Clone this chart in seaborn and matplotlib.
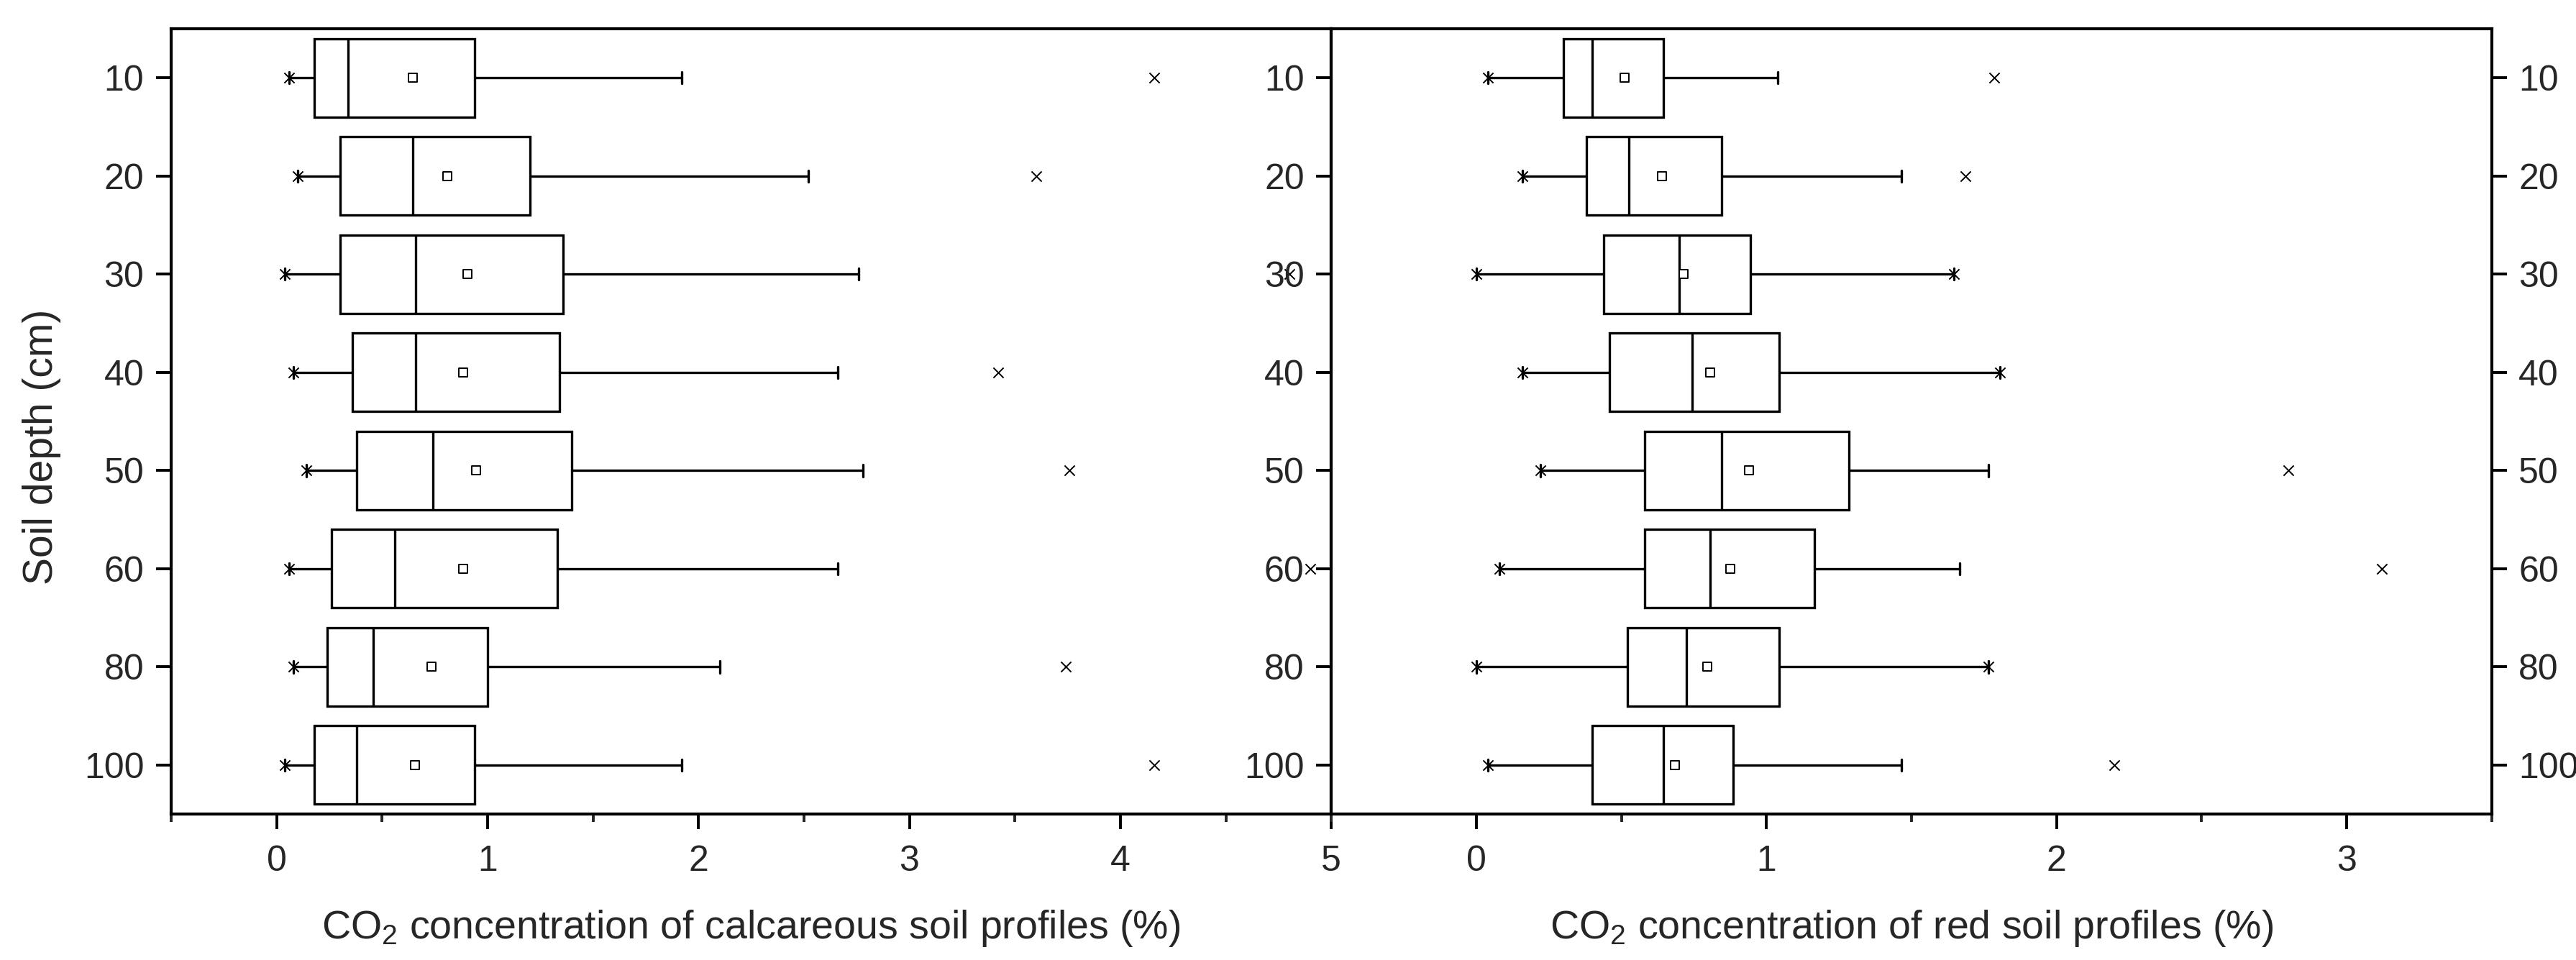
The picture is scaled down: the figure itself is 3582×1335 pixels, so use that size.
import numpy as np
import pandas as pd
import seaborn as sns
import matplotlib.pyplot as plt
from matplotlib.ticker import MultipleLocator

# soil depth classes (cm)
depths = ["10", "20", "30", "40", "50", "60", "80", "100"]

# calcareous soil profiles, CO2 (%)
calc_low = [0.06, 0.10, 0.04, 0.08, 0.14, 0.06, 0.08, 0.04]
calc_q1 = [0.18, 0.30, 0.30, 0.36, 0.38, 0.26, 0.24, 0.18]
calc_med = [0.34, 0.645, 0.66, 0.66, 0.74, 0.56, 0.46, 0.38]
calc_q3 = [0.94, 1.20, 1.36, 1.34, 1.40, 1.33, 1.00, 0.94]
calc_high = [1.92, 2.52, 2.76, 2.66, 2.78, 2.66, 2.10, 1.92]
calc_mean = [0.645, 0.81, 0.905, 0.885, 0.945, 0.885, 0.735, 0.655]
calc_max = [4.16, 3.60, 4.80, 3.42, 3.76, 4.90, 3.74, 4.16]

# red soil profiles, CO2 (%)
red_low = [0.04, 0.16, 0.00, 0.16, 0.22, 0.08, 0.00, 0.04]
red_q1 = [0.30, 0.38, 0.44, 0.46, 0.58, 0.58, 0.52, 0.40]
red_med = [0.40, 0.525, 0.70, 0.745, 0.845, 0.805, 0.725, 0.645]
red_q3 = [0.645, 0.845, 0.945, 1.045, 1.285, 1.165, 1.045, 0.885]
red_high = [1.04, 1.465, 1.645, 1.805, 1.765, 1.665, 1.765, 1.465]
red_mean = [0.51, 0.64, 0.715, 0.805, 0.94, 0.875, 0.795, 0.685]
red_max = [1.785, 1.685, 1.645, 1.805, 2.80, 3.12, 1.765, 2.20]


def five_numbers(low, q1, med, q3, high):
    # 5 values per depth -> seaborn gets exactly these quartiles back
    rows = []
    for d, *vals in zip(depths, low, q1, med, q3, high):
        rows += [(d, v) for v in vals]
    return pd.DataFrame(rows, columns=["depth", "co2"])


sns.set_style("ticks")
plt.rcParams["font.family"] = ["Liberation Sans", "DejaVu Sans"]
plt.rcParams["mathtext.fontset"] = "custom"
plt.rcParams["mathtext.rm"] = "Liberation Sans"
plt.rcParams["mathtext.it"] = "Liberation Sans:italic"

fig = plt.figure(figsize=(17.91, 6.675), dpi=200)
ax1 = fig.add_axes([0.0664, 0.152, 0.4504, 0.818])
ax2 = fig.add_axes([0.5168, 0.152, 0.4505, 0.818])

panels = [
    (ax1, (calc_low, calc_q1, calc_med, calc_q3, calc_high), calc_mean, calc_max, (-0.5, 5),
     "CO$_2$ concentration of calcareous soil profiles (%)"),
    (ax2, (red_low, red_q1, red_med, red_q3, red_high), red_mean, red_max, (-0.5, 3.5),
     "CO$_2$ concentration of red soil profiles (%)"),
]

pos = np.arange(len(depths))
for ax, stats, means, maxs, xlim, xlabel in panels:
    df = five_numbers(*stats)
    sns.boxplot(data=df, x="co2", y="depth", order=depths, whis=(0, 100),
                color="white", linecolor="black", linewidth=1.2, width=0.8,
                capwidths=0.12, showfliers=False, ax=ax)
    sns.scatterplot(x=means, y=pos, marker="s", s=16, color="white",
                    edgecolor="black", linewidth=0.7, zorder=5, ax=ax)
    sns.scatterplot(x=stats[0], y=pos, marker="x", s=26, color="black",
                    linewidth=0.7, zorder=5, ax=ax)
    sns.scatterplot(x=maxs, y=pos, marker="x", s=26, color="black",
                    linewidth=0.7, zorder=5, ax=ax)

    ax.set_xlim(*xlim)
    ax.set_ylim(len(depths) - 0.5, -0.5)
    ax.set_yticks(pos, depths)
    ax.xaxis.set_major_locator(MultipleLocator(1))
    ax.xaxis.set_minor_locator(MultipleLocator(0.5))
    ax.set_xlabel(xlabel, fontsize=20, labelpad=15)
    ax.set_ylabel("")
    ax.tick_params(axis="both", which="major", direction="out", length=7.5,
                   width=1.4, labelsize=18, color="black")
    ax.tick_params(axis="y", pad=6)
    ax.tick_params(axis="x", which="major", pad=8)
    ax.tick_params(axis="x", which="minor", direction="out", length=3.8, width=1.4)
    for sp in ax.spines.values():
        sp.set_visible(True)
        sp.set_linewidth(1.5)
        sp.set_color("black")

ax1.set_ylabel("Soil depth (cm)", fontsize=20.5)
ax1.yaxis.set_label_coords(-0.095, 0.468)
ax2.tick_params(axis="y", left=True, right=True, labelleft=True, labelright=True)

plt.savefig("out.png", dpi=200)
plt.close()
